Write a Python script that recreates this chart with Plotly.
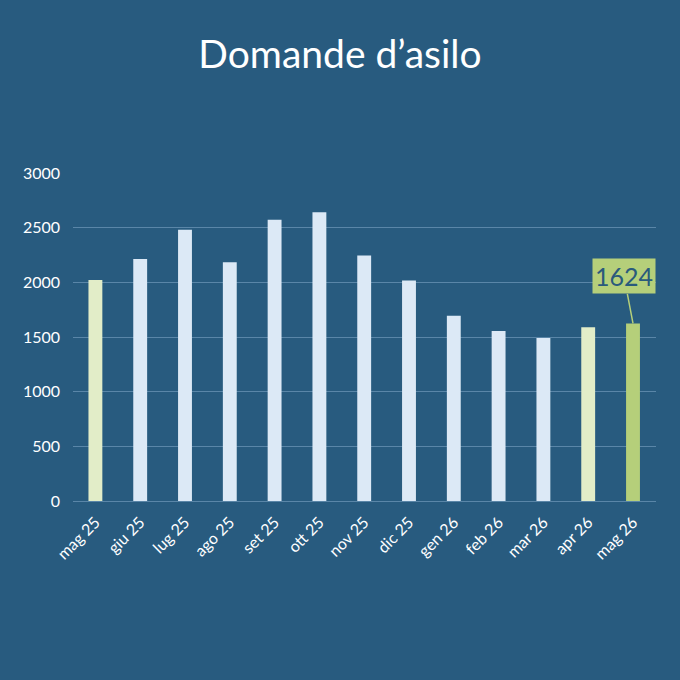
import plotly.graph_objects as go

# dati
mesi = ["mag 25", "giu 25", "lug 25", "ago 25", "set 25", "ott 25", "nov 25",
        "dic 25", "gen 26", "feb 26", "mar 26", "apr 26", "mag 26"]
domande = [2022, 2213, 2480, 2184, 2572, 2642, 2245, 2016, 1695, 1555, 1491, 1589, 1624]

bg = "#285B7F"
col_normale = "#DCE9F6"
col_confronto = "#E2EDC8"
col_attuale = "#B5CF7A"
colori = [col_confronto] + [col_normale] * 10 + [col_confronto, col_attuale]

fig = go.Figure(go.Bar(
    x=mesi,
    y=domande,
    marker=dict(color=colori, line=dict(width=0)),
    hoverinfo="x+y",
))

fig.add_annotation(
    x=mesi[-1], y=domande[-1],
    text=str(domande[-1]),
    showarrow=True, arrowhead=0, arrowwidth=1.5, arrowcolor=col_attuale,
    ax=-9, ay=-47,
    bgcolor=col_attuale, borderpad=2,
    font=dict(family="Lato", size=25, color="#2A5A7C"),
)

fig.update_layout(
    width=680, height=680,
    paper_bgcolor=bg, plot_bgcolor=bg,
    margin=dict(l=73, r=24, t=173, b=179),
    bargap=0.69,
    showlegend=False,
    title=dict(text="Domande d’asilo", x=0.5, xanchor="center", y=0.92, yanchor="middle",
               font=dict(family="Lato", size=39, color="white")),
    font=dict(family="Lato", size=16, color="white"),
    xaxis=dict(tickangle=-45, showgrid=False, showline=False, ticks="",
               ticklabelstandoff=8, tickfont=dict(size=16, color="white")),
    yaxis=dict(range=[0, 3000], dtick=500, gridcolor="#5A86A8", gridwidth=1,
               zeroline=True, zerolinecolor="#5A86A8", zerolinewidth=1,
               ticklabelstandoff=12, tickfont=dict(size=16, color="white")),
)

# niente margine bianco attorno alla pagina
fig.write_html("out.html", config={"displayModeBar": False},
               post_script="document.body.style.margin='0';")
